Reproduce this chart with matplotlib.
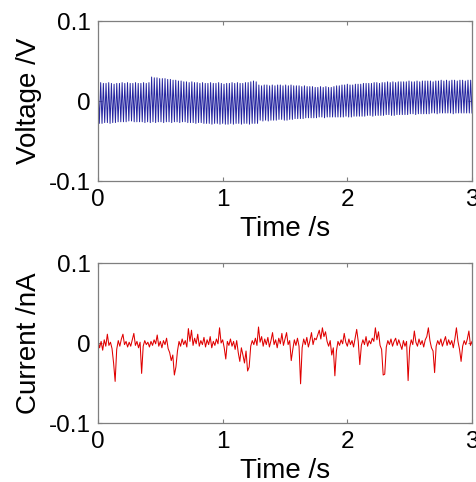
import numpy as np
import matplotlib
matplotlib.use("Agg")
import matplotlib.pyplot as plt

plt.rcParams['font.family'] = ['Liberation Sans', 'DejaVu Sans']

# ---- data ----
x_ticks = [0, 1, 2, 3]
x_ticklabels = ['0', '1', '2', '3']
y_ticks = [-0.1, 0, 0.1]
y_ticklabels = ['-0.1', '0', '0.1']

# voltage: per-cycle upper and lower peak values (V), 140 cycles over 3 s
v_upper = [0.022, 0.023, 0.022, 0.022, 0.023, 0.022, 0.021, 0.022, 0.022, 0.023,
           0.022, 0.023, 0.022, 0.022, 0.023, 0.022, 0.022, 0.023, 0.022, 0.023,
           0.030, 0.029, 0.029, 0.028, 0.028, 0.028, 0.027, 0.027, 0.026, 0.026,
           0.025, 0.025, 0.024, 0.024, 0.023, 0.024, 0.023, 0.023, 0.022, 0.023,
           0.022, 0.022, 0.023, 0.022, 0.022, 0.023, 0.022, 0.021, 0.022, 0.022,
           0.023, 0.022, 0.023, 0.022, 0.022, 0.023, 0.023, 0.024, 0.025, 0.024,
           0.020, 0.019, 0.020, 0.020, 0.019, 0.020, 0.019, 0.020, 0.020, 0.019,
           0.020, 0.019, 0.020, 0.019, 0.019, 0.019, 0.018, 0.019, 0.018, 0.018,
           0.018, 0.017, 0.017, 0.018, 0.017, 0.018, 0.017, 0.017, 0.018, 0.019,
           0.019, 0.020, 0.020, 0.021, 0.020, 0.020, 0.021, 0.021, 0.021, 0.022,
           0.022, 0.022, 0.022, 0.023, 0.023, 0.022, 0.023, 0.023, 0.024, 0.023,
           0.024, 0.023, 0.024, 0.024, 0.024, 0.024, 0.025, 0.024, 0.024, 0.025,
           0.024, 0.025, 0.025, 0.025, 0.025, 0.024, 0.025, 0.025, 0.026, 0.025,
           0.026, 0.025, 0.026, 0.026, 0.025, 0.026, 0.026, 0.025, 0.026, 0.026]
v_lower = [-0.028, -0.028, -0.027, -0.027, -0.028, -0.027, -0.027, -0.026, -0.026, -0.026,
           -0.026, -0.025, -0.025, -0.026, -0.026, -0.026, -0.026, -0.027, -0.026, -0.027,
           -0.026, -0.027, -0.026, -0.026, -0.027, -0.026, -0.026, -0.027, -0.026, -0.026,
           -0.027, -0.026, -0.026, -0.027, -0.027, -0.027, -0.028, -0.027, -0.027, -0.028,
           -0.028, -0.028, -0.029, -0.028, -0.028, -0.029, -0.028, -0.029, -0.029, -0.028,
           -0.029, -0.028, -0.028, -0.029, -0.028, -0.028, -0.029, -0.028, -0.028, -0.028,
           -0.024, -0.025, -0.024, -0.025, -0.024, -0.024, -0.024, -0.023, -0.023, -0.024,
           -0.024, -0.023, -0.023, -0.022, -0.022, -0.022, -0.022, -0.021, -0.021, -0.021,
           -0.021, -0.021, -0.020, -0.020, -0.021, -0.020, -0.020, -0.020, -0.020, -0.020,
           -0.020, -0.020, -0.019, -0.020, -0.020, -0.019, -0.019, -0.019, -0.019, -0.019,
           -0.018, -0.018, -0.019, -0.018, -0.018, -0.018, -0.018, -0.017, -0.017, -0.018,
           -0.018, -0.017, -0.017, -0.017, -0.017, -0.017, -0.016, -0.016, -0.017, -0.016,
           -0.016, -0.016, -0.016, -0.016, -0.015, -0.015, -0.016, -0.015, -0.015, -0.015,
           -0.015, -0.015, -0.016, -0.015, -0.015, -0.015, -0.015, -0.015, -0.015, -0.015]

# current (nA), sampled every 0.0125 s from 0 to 3 s
current = [0.003, -0.006, 0.002, -0.009, 0.004, -0.004, 0.011, -0.003, 0.001, -0.007,
           -0.025, -0.048, -0.008, 0.003, -0.004, 0.005, 0.011, -0.002, 0.002, -0.005,
           0.001, -0.004, 0.004, 0.012, -0.003, 0.002, -0.006, 0.001, -0.038, -0.004,
           0.003, -0.002, 0.001, -0.005, 0.002, -0.003, 0.004, -0.001, 0.010, -0.004,
           0.002, -0.006, 0.003, -0.002, 0.006, -0.007, -0.012, -0.022, -0.015, -0.040,
           -0.030, -0.010, 0.002, -0.004, 0.005, -0.002, 0.003, -0.005, 0.018, 0.002,
           0.016, -0.003, 0.006, -0.001, 0.011, -0.004, 0.003, -0.002, 0.007, -0.005,
           0.004, -0.002, 0.008, -0.006, 0.002, -0.003, 0.005, -0.001, 0.019, 0.000,
           0.004, -0.006, -0.020, 0.002, -0.003, 0.005, -0.004, 0.002, -0.008, 0.003,
           -0.012, -0.023, -0.006, -0.015, -0.025, -0.010, -0.035, -0.030, -0.004, 0.003,
           -0.002, 0.006, -0.003, 0.020, 0.001, 0.008, -0.004, 0.005, -0.002, 0.007,
           -0.005, 0.003, 0.013, -0.002, 0.004, -0.006, 0.006, -0.001, 0.012, -0.003,
           0.005, 0.013, -0.002, 0.003, -0.022, -0.008, 0.004, -0.003, 0.006, -0.004,
           -0.051, -0.006, 0.005, -0.002, 0.007, -0.005, 0.003, 0.013, -0.002, 0.006,
           0.004, 0.010, 0.016, 0.005, 0.019, 0.008, 0.014, 0.002, -0.004, 0.003,
           -0.015, -0.006, -0.041, -0.010, 0.002, -0.003, 0.004, -0.001, 0.012, 0.001,
           -0.004, 0.005, -0.002, 0.003, -0.005, 0.006, 0.017, 0.002, -0.027, -0.003,
           0.004, -0.002, 0.008, -0.004, 0.003, -0.001, 0.006, 0.002, 0.019, 0.004,
           0.014, -0.003, -0.008, -0.040, -0.039, -0.005, 0.003, -0.002, 0.005, -0.004,
           0.002, 0.006, -0.003, 0.004, -0.002, -0.008, 0.003, -0.004, 0.002, -0.047,
           -0.006, 0.004, -0.002, 0.015, 0.001, -0.004, 0.005, -0.002, 0.003, -0.005,
           0.004, 0.008, 0.019, 0.003, -0.006, -0.010, -0.037, -0.004, 0.003, -0.002,
           0.005, -0.004, 0.002, 0.008, -0.003, 0.004, -0.002, 0.003, -0.006, 0.005,
           0.019, 0.002, -0.008, -0.023, -0.004, 0.003, -0.002, 0.005, 0.015, -0.003,
           0.002]

# ---- build series ----
v_vals = np.empty(2 * len(v_upper))
v_vals[0::2] = v_upper
v_vals[1::2] = v_lower
t_v = np.linspace(0, 3, len(v_vals))
t_i = np.linspace(0, 3, len(current))

fig = plt.figure(figsize=(4.76, 4.82), dpi=100)
ax1 = fig.add_axes([98 / 476, 1 - 181 / 482, 374 / 476, 160 / 482])
ax2 = fig.add_axes([98 / 476, 1 - 423 / 482, 374 / 476, 160 / 482])

ax1.plot(t_v, v_vals, color='#2424a0', lw=0.7)
ax2.plot(t_i, current, color='#e00000', lw=0.75)

spine_col = '#7f7f7f'
for ax, ylab in ((ax1, 'Voltage /V'), (ax2, 'Current /nA')):
    ax.set_xlim(0, 3)
    ax.set_ylim(-0.1, 0.1)
    ax.set_xticks(x_ticks)
    ax.set_xticklabels(x_ticklabels)
    ax.set_yticks(y_ticks)
    ax.set_yticklabels(y_ticklabels)
    ax.tick_params(direction='in', length=3, width=0.8, color=spine_col,
                   labelsize=17.5, top=True, right=True, pad=5)
    ax.tick_params(axis='x', pad=6)
    for s in ax.spines.values():
        s.set_color(spine_col)
        s.set_linewidth(0.9)
    ax.set_xlabel('Time /s', fontsize=20, labelpad=3)
    ax.set_ylabel(ylab, fontsize=20, labelpad=5)

fig.savefig('out.png', dpi=100)
